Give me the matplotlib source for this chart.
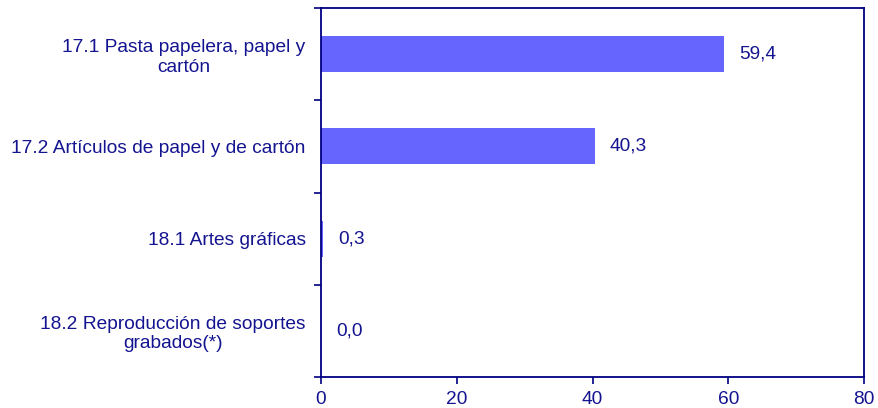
import matplotlib
matplotlib.use("Agg")
import matplotlib.pyplot as plt
from matplotlib.ticker import FixedLocator, NullFormatter

categories = ["17.1 Pasta papelera, papel y\ncartón",
              "17.2 Artículos de papel y de cartón",
              "18.1 Artes gráficas",
              "18.2 Reproducción de soportes\ngrabados(*)"]
values = [59.4, 40.3, 0.3, 0.0]
value_labels = ["59,4", "40,3", "0,3", "0,0"]
xticks = [0, 20, 40, 60, 80]

navy = "#000080"
text_color = "#141490"
bar_color = "#6666FF"
fs = 13.8
plt.rcParams['font.family'] = ['Liberation Sans', 'DejaVu Sans']

fig = plt.figure(figsize=(8.79, 4.08), dpi=100)
ax = fig.add_axes([321/879, 1-377/408, (864-321)/879, (377-8)/408])

pos = list(range(len(categories)))
ax.barh(pos, values, height=0.39, color=bar_color, edgecolor="none")
for p, v, lab in zip(pos, values, value_labels):
    ax.text(v + 2.2, p, lab, va="center", ha="left", color=text_color, fontsize=fs)

ax.set_xlim(0, 80)
ax.set_ylim(len(categories) - 0.5, -0.5)
ax.set_xticks(xticks)
ax.set_xticklabels([str(x) for x in xticks])

ax.yaxis.set_major_locator(FixedLocator([i - 0.5 for i in range(len(categories) + 1)]))
ax.yaxis.set_major_formatter(NullFormatter())
ax.yaxis.set_minor_locator(FixedLocator(pos))
ax.set_yticklabels(categories, minor=True, multialignment="center", linespacing=1.2)
ax.tick_params(axis="y", which="major", length=5, width=1.2, color=navy, direction="out")
ax.tick_params(axis="y", which="minor", length=0, pad=11, labelsize=fs, labelcolor=text_color)
ax.tick_params(axis="x", length=5, width=1.2, color=navy, direction="out", pad=5,
               labelsize=fs, labelcolor=text_color)

for s in ax.spines.values():
    s.set_color(navy)
    s.set_linewidth(1.3)

fig.savefig("out.png", dpi=100)
